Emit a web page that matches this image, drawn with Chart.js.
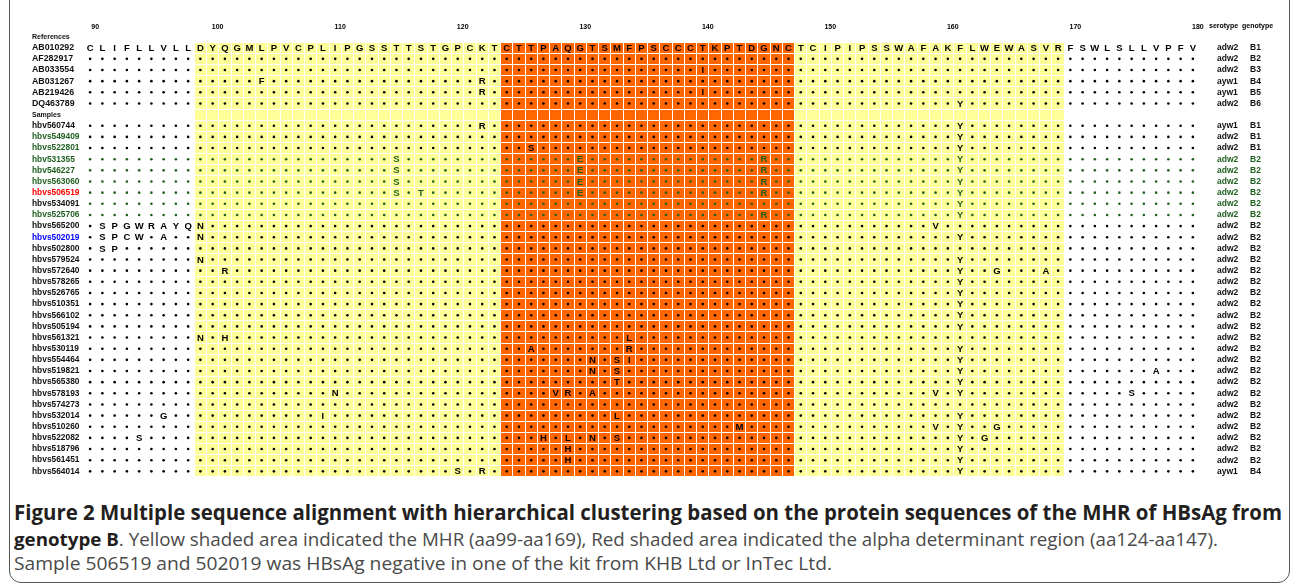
<!DOCTYPE html>
<html>
<head>
<meta charset="utf-8">
<script src="https://cdn.jsdelivr.net/npm/chart.js@4.4.1/dist/chart.umd.min.js"></script>
<style>
  html, body { margin: 0; padding: 0; background: #fff; }
  body { width: 1292px; height: 587px; position: relative; overflow: hidden; }
  #wrap { position: absolute; left: 0; top: 0; width: 1292px; height: 492px; }
  #frame { position: absolute; left: 9px; top: -30px; width: 1281px; height: 613px;
           border: 1.5px solid #555; border-radius: 12px; box-sizing: border-box; }
  .cap { position: absolute; left: 14px; white-space: nowrap; line-height: 24px;
         transform-origin: 0 50%; font-family: "Open Sans", "Noto Sans", sans-serif; color: #4a4a4a; }
  .cap b { color: #231f20; }
</style>
</head>
<body>
<div id="frame"></div>
<div id="wrap"><canvas id="grafico" width="1292" height="492"></canvas></div>
<div class="cap" id="cap1" style="top:500px;font-size:20.5px;font-weight:700;color:#231f20">Figure 2 Multiple sequence alignment with hierarchical clustering based on the protein sequences of the MHR of HBsAg from</div>
<div class="cap" id="cap2" style="top:527px;font-size:18.5px"><b>genotype B</b>. Yellow shaded area indicated the MHR (aa99-aa169), Red shaded area indicated the alpha determinant region (aa124-aa147).</div>
<div class="cap" id="cap3" style="top:551px;font-size:18.5px">Sample 506519 and 502019 was HBsAg negative in one of the kit from KHB Ltd or InTec Ltd.</div>
<script>
// alignment aa90 - aa180, first reference is written out, the rest only where they differ
const firstPosition = 90;
const consensus = "CLIFLLVLLDYQGMLPVCPLIPGSSTTSTGPCKTCTTPAQGTSMFPSCCCTKPTDGNCTCIPIPSSWAFAKFLWEWASVRFSWLSLLVPFV";
const tickLabels = ["90", "100", "110", "120", "130", "140", "150", "160", "170", "180"];
const mhrRange = [99, 169];
const alphaRange = [124, 147];

const referenceNames = ["AB010292", "AF282917", "AB033554", "AB031267", "AB219426", "DQ463789"];
const referenceMutations = [[], [], ["140I"], ["104F", "122R"], ["122R", "140I"], ["161Y"]];
const referenceSerotypes = ["adw2", "adw2", "adw2", "ayw1", "ayw1", "adw2"];
const referenceGenotypes = ["B1", "B2", "B3", "B4", "B5", "B6"];

const sampleNames = ["hbv560744", "hbvs549409", "hbvs522801", "hbv531355", "hbv546227", "hbvs563060",
  "hbvs506519", "hbvs534091", "hbvs525706", "hbvs565200", "hbvs502019", "hbvs502800", "hbvs579524",
  "hbvs572640", "hbvs578265", "hbvs526765", "hbvs510351", "hbvs566102", "hbvs505194", "hbvs561321",
  "hbvs530119", "hbvs554464", "hbvs519821", "hbvs565380", "hbvs578193", "hbvs574273", "hbvs532014",
  "hbvs510260", "hbvs522082", "hbvs518796", "hbvs561451", "hbvs564014"];
const sampleMutations = [
  ["122R", "161Y"],
  ["161Y"],
  ["126S", "161Y"],
  ["115S", "130E", "145R", "161Y"],
  ["115S", "130E", "145R", "161Y"],
  ["115S", "130E", "145R", "161Y"],
  ["115S", "117T", "130E", "145R", "161Y"],
  ["161Y"],
  ["145R", "161Y"],
  ["91S", "92P", "93G", "94W", "95R", "96A", "97Y", "98Q", "99N", "159V"],
  ["91S", "92P", "93C", "94W", "96A", "99N", "161Y"],
  ["91S", "92P"],
  ["99N", "161Y"],
  ["101R", "161Y", "164G", "168A"],
  ["161Y"],
  ["161Y"],
  ["161Y"],
  ["161Y"],
  ["161Y"],
  ["99N", "101H", "134L"],
  ["126A", "134R", "161Y"],
  ["131N", "133S", "134I", "161Y"],
  ["131N", "133S", "161Y", "177A"],
  ["133T", "161Y"],
  ["110N", "128V", "129R", "131A", "159V", "161Y", "175S"],
  [],
  ["96G", "109I", "133L", "161Y"],
  ["143M", "159V", "161Y", "164G"],
  ["94S", "127H", "129L", "131N", "133S", "161Y", "163G"],
  ["129H", "161Y"],
  ["129H", "161Y"],
  ["120S", "122R", "161Y"]
];
const sampleSerotypes = ["ayw1", "adw2", "adw2", "adw2", "adw2", "adw2", "adw2", "adw2", "adw2", "adw2",
  "adw2", "adw2", "adw2", "adw2", "adw2", "adw2", "adw2", "adw2", "adw2", "adw2", "adw2", "adw2", "adw2",
  "adw2", "adw2", "adw2", "adw2", "adw2", "adw2", "adw2", "adw2", "ayw1"];
const sampleGenotypes = ["B1", "B1", "B1", "B2", "B2", "B2", "B2", "B2", "B2", "B2", "B2", "B2", "B2", "B2",
  "B2", "B2", "B2", "B2", "B2", "B2", "B2", "B2", "B2", "B2", "B2", "B2", "B2", "B2", "B2", "B2", "B2", "B4"];

// colours
const GREEN = "#1f5f1f";
const labelColors = {
  hbvs549409: GREEN, hbvs522801: GREEN, hbv531355: GREEN, hbv546227: GREEN,
  hbvs563060: GREEN, hbvs525706: GREEN, hbvs506519: "#ff0000", hbvs502019: "#0000ff"
};
const greenRows = ["hbv531355", "hbv546227", "hbvs563060", "hbvs506519", "hbvs534091", "hbvs525706"];
const FONT = '"Liberation Sans", Arial, sans-serif';

function rowColor(name) {
  return greenRows.includes(name) ? GREEN : "#000";
}

// rows of the table
const rows = [{ name: "References", header: true }];
referenceNames.forEach(function(n, i) {
  rows.push({ name: n, muts: referenceMutations[i], sero: referenceSerotypes[i], geno: referenceGenotypes[i], template: i === 0 });
});
rows.push({ name: "Samples", header: true });
sampleNames.forEach(function(n, i) {
  rows.push({ name: n, muts: sampleMutations[i], sero: sampleSerotypes[i], geno: sampleGenotypes[i] });
});

const columns = Array.from(consensus, (aa, i) => String(firstPosition + i));
const rowLabels = rows.map(r => r.name);
const seroLabels = rows.map(r => r.sero || "");
const genoLabels = rows.map(r => r.geno || "");

const cells = [];
rows.forEach(function(r) {
  if (r.header) return;
  let changed = {};
  r.muts.forEach(m => { changed[m.slice(0, -1)] = m.slice(-1); });
  columns.forEach(function(pos, i) {
    let letter = "";
    if (r.template) letter = consensus[i];
    else if (changed[pos]) letter = changed[pos];
    cells.push({ x: pos, y: r.name, letter: letter });
  });
});

const shadePlugin = {
  id: "shade",
  beforeDraw(chart) {
    const x = chart.scales.x, y = chart.scales.y, ctx = chart.ctx;
    const half = (x.getPixelForValue(1) - x.getPixelForValue(0)) / 2;
    const rowHalf = (y.getPixelForValue(1) - y.getPixelForValue(0)) / 2;
    const top = y.getPixelForValue(1) - rowHalf;
    const bottom = y.getPixelForValue(rowLabels.length - 1) + rowHalf;
    function band(range, color) {
      const l = x.getPixelForValue(columns.indexOf(String(range[0]))) - half;
      const r = x.getPixelForValue(columns.indexOf(String(range[1]))) + half;
      ctx.fillStyle = color;
      ctx.fillRect(l, top, r - l, bottom - top);
    }
    ctx.save();
    band(mhrRange, "#ffff99");
    band(alphaRange, "#ff6600");
    ctx.restore();
  }
};

const letterPlugin = {
  id: "letters",
  afterDatasetsDraw(chart) {
    const meta = chart.getDatasetMeta(0);
    const ctx = chart.ctx;
    ctx.save();
    ctx.font = "bold 9.5px " + FONT;
    ctx.textAlign = "center";
    ctx.textBaseline = "middle";
    meta.data.forEach(function(pt, i) {
      const c = cells[i];
      if (!c.letter) return;
      ctx.fillStyle = rowColor(c.y);
      ctx.fillText(c.letter, pt.x, pt.y + 0.5);
    });
    // column headers for the right hand axes
    ctx.font = "bold 7px " + FONT;
    ctx.textAlign = "left";
    ctx.fillStyle = "#000";
    const yh = chart.scales.x.bottom - 4.5;
    ctx.fillText("serotype", chart.scales.ySero.left + 10, yh);
    ctx.fillText("genotype", chart.scales.yGeno.left, yh);
    ctx.restore();
  }
};

const config = {
  type: "scatter",
  data: {
    datasets: [{
      data: cells,
      pointRadius: c => (c.raw && c.raw.letter) ? 0 : 1.3,
      pointHoverRadius: 0,
      pointBorderWidth: 0,
      pointBackgroundColor: c => c.raw ? rowColor(c.raw.y) : "#000",
      showLine: false
    }]
  },
  options: {
    animation: false,
    responsive: false,
    events: [],
    layout: { padding: { left: 32, right: 20, top: 0, bottom: 5 } },
    plugins: { legend: { display: false }, tooltip: { enabled: false } },
    scales: {
      x: {
        type: "category",
        position: "top",
        labels: columns,
        offset: true,
        grid: { color: "#ffffff", lineWidth: 1, offset: true, drawTicks: false },
        border: { display: false },
        ticks: {
          autoSkip: false, maxRotation: 0, minRotation: 0, padding: 0, labelOffset: 5,
          color: "#000", font: { family: FONT, size: 7, weight: "bold" },
          callback: (v, i) => tickLabels.includes(columns[i]) ? columns[i] : ""
        },
        afterFit: s => { s.height = 31; }
      },
      y: {
        type: "category",
        position: "left",
        labels: rowLabels,
        offset: true,
        grid: { color: "#ffffff", lineWidth: 1, offset: true, drawTicks: false },
        border: { display: false },
        ticks: {
          autoSkip: false, crossAlign: "far", padding: 0,
          color: c => labelColors[rowLabels[c.index]] || "#111",
          font: c => {
            const r = rows[c.index];
            if (r && r.header) return { family: FONT, size: 7, weight: "bold" };
            if (r && referenceNames.includes(r.name)) return { family: FONT, size: 8.8, weight: "bold" };
            return { family: FONT, size: 8.4, weight: "bold" };
          }
        },
        afterFit: s => { s.width = 52; }
      },
      ySero: {
        type: "category",
        position: "right",
        weight: 0,
        labels: seroLabels,
        offset: true,
        grid: { display: false },
        border: { display: false },
        ticks: {
          autoSkip: false, crossAlign: "near", padding: 10,
          color: c => greenRows.includes(rowLabels[c.index]) ? GREEN : "#111",
          font: { family: FONT, size: 8.5, weight: "bold" }
        },
        afterFit: s => { s.width = 43; }
      },
      yGeno: {
        type: "category",
        position: "right",
        weight: 1,
        labels: genoLabels,
        offset: true,
        grid: { display: false },
        border: { display: false },
        ticks: {
          autoSkip: false, crossAlign: "near", padding: 0,
          color: c => greenRows.includes(rowLabels[c.index]) ? GREEN : "#111",
          font: { family: FONT, size: 8.5, weight: "bold" }
        },
        afterFit: s => { s.width = 30; }
      }
    }
  },
  plugins: [shadePlugin, letterPlugin]
};

const grafico = document.getElementById("grafico");
const myChart = new Chart(grafico, config);

// squeeze the caption lines to the widths of the original
[["cap1", 1268], ["cap2", 1204], ["cap3", 818]].forEach(function(item) {
  const el = document.getElementById(item[0]);
  const w = el.getBoundingClientRect().width;
  el.style.transform = "scaleX(" + (item[1] / w) + ")";
});
</script>
</body>
</html>
